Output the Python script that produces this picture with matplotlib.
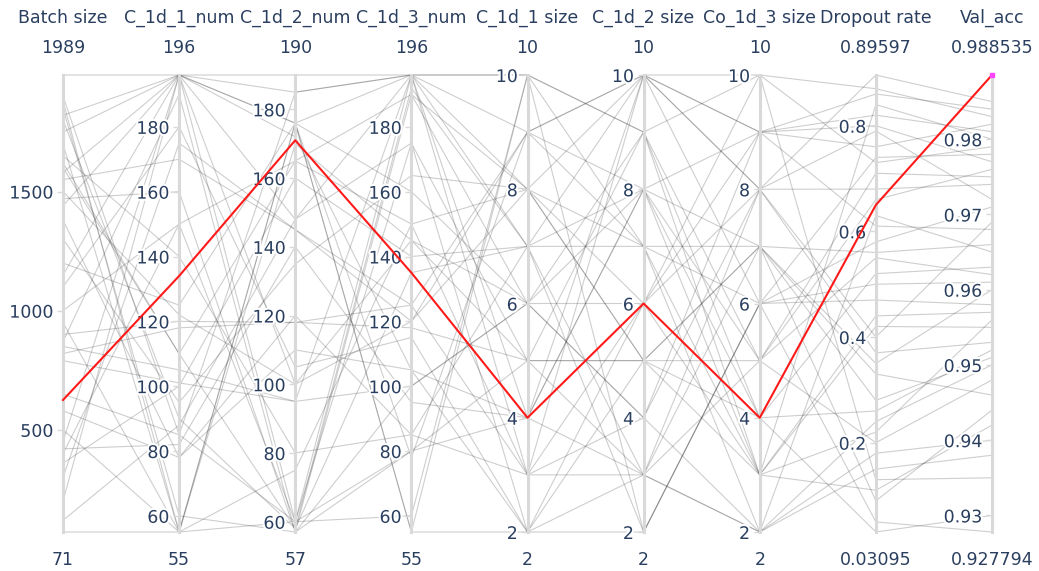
"""Parallel-coordinates view of the CNN hyper-parameter search.

Each grey polyline is one trial; the best trial (highest Val_acc) is drawn
in red.  Every dimension gets its own thin axes so the tick labels come from
matplotlib's scales rather than hand-placed text.
"""
import matplotlib.pyplot as plt
import matplotlib.patheffects as pe
import numpy as np

# ---- data (one entry per trial, best trial first) ----------------------------

DIM_NAMES = [
    "Batch size", "C_1d_1_num", "C_1d_2_num", "C_1d_3_num",
    "C_1d_1 size", "C_1d_2 size", "Co_1d_3 size", "Dropout rate", "Val_acc",
]

batch_size = [625, 1989, 1900, 1850, 1820, 1800, 1700, 1600, 1580, 1550,
              1500, 1440, 1380, 1150, 900, 870, 850, 820, 790, 500,
              420, 400, 360, 200, 71, 1880, 1650, 1470, 1300, 1100,
              650, 580, 300, 1750, 1200, 950, 1000, 450, 120, 1620]
c1_num = [134, 196, 85, 60, 196, 90, 55, 110, 196, 170,
          122, 196, 78, 196, 120, 190, 105, 118, 101, 55,
          82, 150, 100, 196, 55, 55, 140, 160, 95, 180,
          85, 78, 175, 196, 125, 55, 150, 196, 88, 110]
c2_num = [171, 185, 60, 57, 176, 58, 60, 165, 190, 145,
          100, 172, 120, 148, 118, 57, 95, 118, 95, 176,
          140, 60, 160, 176, 170, 176, 80, 57, 135, 105,
          185, 110, 145, 60, 176, 75, 165, 100, 148, 58]
c3_num = [135, 196, 196, 190, 160, 192, 175, 150, 196, 120,
          145, 105, 85, 196, 118, 80, 100, 125, 196, 55,
          95, 60, 140, 78, 145, 196, 85, 100, 165, 115,
          196, 105, 125, 80, 55, 150, 190, 120, 175, 135]
c1_size = [4, 10, 9, 8, 6, 7, 5, 8, 3, 9,
           6, 2, 7, 10, 5, 4, 6, 3, 8, 2,
           4, 10, 7, 9, 5, 4, 3, 6, 8, 2,
           7, 4, 9, 5, 10, 3, 6, 8, 2, 7]
c2_size = [6, 9, 10, 10, 8, 10, 9, 5, 10, 7,
           4, 6, 3, 2, 5, 8, 6, 3, 7, 3,
           3, 9, 7, 10, 5, 8, 4, 9, 6, 5,
           2, 10, 8, 3, 7, 6, 4, 5, 2, 8]
c3_size = [4, 10, 8, 9, 5, 6, 3, 7, 8, 2,
           9, 10, 5, 6, 4, 7, 3, 8, 7, 2,
           2, 4, 6, 9, 3, 9, 2, 5, 8, 7,
           6, 10, 4, 7, 3, 9, 8, 5, 6, 3]
dropout = [0.650, 0.87, 0.79, 0.82, 0.55, 0.74, 0.42, 0.33, 0.89597, 0.18,
           0.61, 0.13, 0.71, 0.47, 0.52, 0.28, 0.84, 0.37, 0.09, 0.24,
           0.63, 0.03095, 0.58, 0.76, 0.44, 0.80, 0.15, 0.20, 0.68, 0.35,
           0.05, 0.73, 0.26, 0.56, 0.11, 0.86, 0.40, 0.66, 0.50, 0.22]
val_acc = [0.988535, 0.983, 0.972, 0.981, 0.962, 0.978, 0.955, 0.946, 0.985, 0.940,
           0.968, 0.935, 0.975, 0.958, 0.963, 0.951, 0.980, 0.953, 0.944, 0.950,
           0.965, 0.930, 0.971, 0.982, 0.957, 0.977, 0.938, 0.948, 0.974, 0.960,
           0.927794, 0.979, 0.952, 0.966, 0.942, 0.984, 0.969, 0.976, 0.961, 0.956]

DIM_TICKS = [
    [500, 1000, 1500],
    [60, 80, 100, 120, 140, 160, 180],
    [60, 80, 100, 120, 140, 160, 180],
    [60, 80, 100, 120, 140, 160, 180],
    [2, 4, 6, 8, 10],
    [2, 4, 6, 8, 10],
    [2, 4, 6, 8, 10],
    [0.2, 0.4, 0.6, 0.8],
    [0.93, 0.94, 0.95, 0.96, 0.97, 0.98],
]

# ---- style -------------------------------------------------------------------

TEXT_COLOR = "#2a3f5f"
AXIS_COLOR = "#d9d9d9"
FONT_SIZE = 12.5
HALO = [pe.withStroke(linewidth=3, foreground="white")]

W, H = 1039, 571
AX_LEFT, AX_RIGHT = 63 / W, 992 / W
AX_BOTTOM, AX_TOP = 1 - 532 / H, 1 - 75 / H


def main() -> None:
    columns = [batch_size, c1_num, c2_num, c3_num, c1_size, c2_size,
               c3_size, dropout, val_acc]
    data = np.array(columns, dtype=float).T        # trials x dims
    n_dims = data.shape[1]
    lo, hi = data.min(axis=0), data.max(axis=0)
    norm = (data - lo) / (hi - lo)
    best = int(np.argmax(data[:, -1]))
    xs = np.arange(n_dims)

    fig = plt.figure(figsize=(W / 100, H / 100), dpi=100)
    ax = fig.add_axes([AX_LEFT, AX_BOTTOM, AX_RIGHT - AX_LEFT, AX_TOP - AX_BOTTOM])
    ax.set_xlim(0, n_dims - 1)
    ax.set_ylim(0, 1)
    ax.axis("off")

    for i, row in enumerate(norm):
        if i == best:
            continue
        ax.plot(xs, row, color="#333333", alpha=0.24, linewidth=0.8,
                clip_on=False, zorder=2)

    # one thin axes per dimension, carrying the real value scale
    span = AX_RIGHT - AX_LEFT
    for d in range(n_dims):
        xf = AX_LEFT + span * d / (n_dims - 1)
        dax = fig.add_axes([xf, AX_BOTTOM, 0.0005, AX_TOP - AX_BOTTOM])
        dax.patch.set_visible(False)
        for side in ("top", "right", "bottom"):
            dax.spines[side].set_visible(False)
        dax.spines["left"].set_color(AXIS_COLOR)
        dax.spines["left"].set_linewidth(2.2)
        dax.set_ylim(lo[d], hi[d])
        dax.set_xticks([])
        dax.set_yticks(DIM_TICKS[d])
        dax.set_yticklabels([f"{t:g}" for t in DIM_TICKS[d]])
        dax.tick_params(axis="y", length=4, width=1, color=AXIS_COLOR, pad=3,
                        labelcolor=TEXT_COLOR, labelsize=FONT_SIZE)
        for lab in dax.get_yticklabels():
            lab.set_path_effects(HALO)

        fig.text(xf, 1 - 18 / H, DIM_NAMES[d], ha="center", va="center",
                 color=TEXT_COLOR, fontsize=FONT_SIZE)
        fig.text(xf, 1 - 48 / H, f"{hi[d]:g}", ha="center", va="center",
                 color=TEXT_COLOR, fontsize=FONT_SIZE)
        fig.text(xf, 1 - 560 / H, f"{lo[d]:g}", ha="center", va="center",
                 color=TEXT_COLOR, fontsize=FONT_SIZE)

    # best trial on top of everything
    top = fig.add_axes(ax.get_position())
    top.set_xlim(ax.get_xlim())
    top.set_ylim(ax.get_ylim())
    top.axis("off")
    top.plot(xs, norm[best], color="#ff1a1a", linewidth=1.5, clip_on=False)
    top.plot([xs[-1]], [norm[best, -1]], marker="s", markersize=3,
             color="#ff44ff", clip_on=False)

    fig.savefig("out.png", dpi=100, facecolor="white")
    plt.close(fig)


if __name__ == "__main__":
    main()
